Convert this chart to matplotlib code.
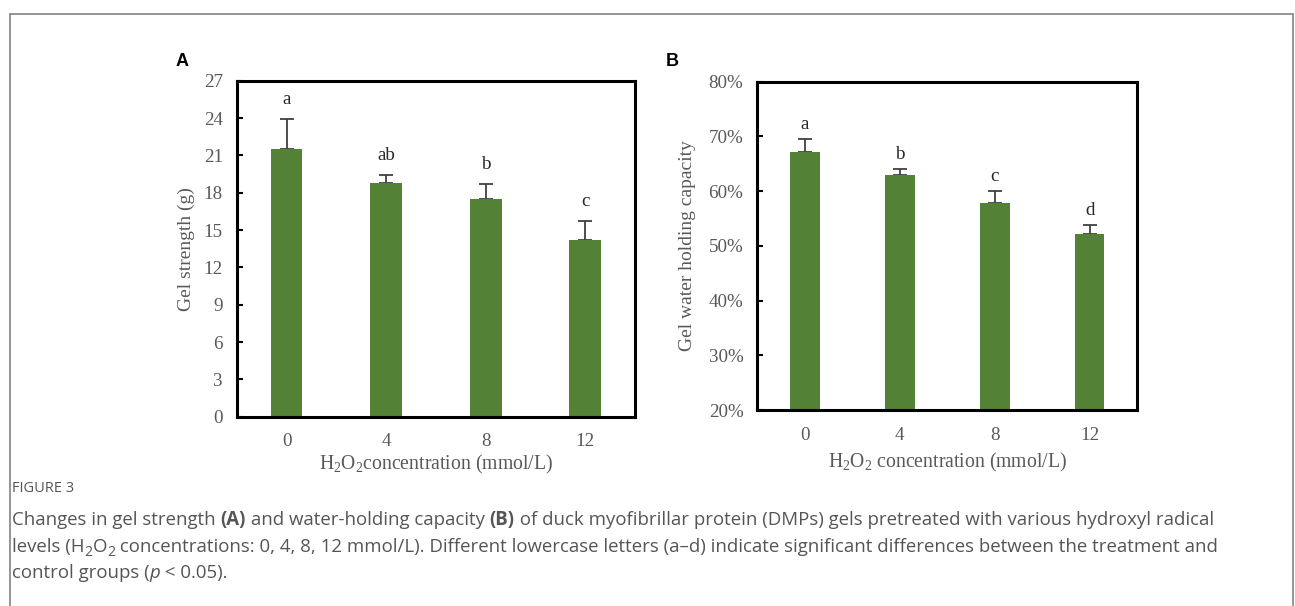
import matplotlib
matplotlib.use("Agg")
import matplotlib.pyplot as plt
import numpy as np
from matplotlib.ticker import PercentFormatter
from matplotlib.patches import Rectangle

plt.rcParams['font.family'] = ['Liberation Serif', 'DejaVu Serif']
plt.rcParams['mathtext.fontset'] = 'custom'
plt.rcParams['mathtext.rm'] = 'Liberation Serif'
plt.rcParams['mathtext.it'] = 'Liberation Serif:italic'

# data
conc = ["0", "4", "8", "12"]
gel_strength = [21.5, 18.8, 17.5, 14.2]
gel_strength_err = [2.4, 0.6, 1.2, 1.5]
gel_strength_letters = ["a", "ab", "b", "c"]

whc = [67.2, 62.9, 57.9, 52.2]
whc_err = [2.3, 1.1, 2.1, 1.6]
whc_letters = ["a", "b", "c", "d"]

green = "#538135"
txt_gray = "#595959"

fig = plt.figure(figsize=(12.95, 6.06), dpi=100)

# outer frame of the figure panel
fig.patches.append(Rectangle((10/1295, -0.05), 1283/1295, 1 - 14/606 + 0.05,
                             transform=fig.transFigure, fill=False,
                             edgecolor="#8c8c8c", linewidth=1.3))


def style_axes(ax):
    for s in ax.spines.values():
        s.set_linewidth(2.2)
        s.set_color("black")
    ax.tick_params(axis='y', direction='in', length=4, width=1.5,
                   labelsize=13.7, labelcolor=txt_gray, pad=10)
    ax.tick_params(axis='x', length=0, labelsize=13.7, labelcolor=txt_gray, pad=12)


x = np.arange(len(conc))

# panel A
axA = fig.add_axes([0.1828, 0.3124, 0.3075, 0.5544])
axA.bar(x, gel_strength, width=0.32, color=green, zorder=2)
axA.errorbar(x, gel_strength, yerr=[np.zeros(4), gel_strength_err], fmt='none',
             ecolor="#404040", elinewidth=1.3, capsize=5, capthick=1.3, zorder=1)
for xi, v, e, lab in zip(x, gel_strength, gel_strength_err, gel_strength_letters):
    axA.text(xi, v + e + 1.6, lab, ha='center', va='center', fontsize=13.7, color="#262626")
axA.set_xlim(-0.5, 3.5)
axA.set_ylim(0, 27)
axA.set_yticks(np.arange(0, 28, 3))
axA.set_xticks(x)
axA.set_xticklabels(conc)
style_axes(axA)
axA.set_ylabel("Gel strength (g)", fontsize=14, color=txt_gray, labelpad=6)
axA.set_xlabel(r"H$_2$O$_2$concentration (mmol/L)", fontsize=14.2, color=txt_gray, labelpad=2)
fig.text(182/1295, 1 - 61/606, "A", fontsize=13, fontweight='bold',
         family='Liberation Sans', ha='center', va='center')

# panel B
axB = fig.add_axes([0.5848, 0.3234, 0.2934, 0.5418])
axB.bar(x, whc, width=0.31, color=green, zorder=2)
axB.errorbar(x, whc, yerr=[np.zeros(4), whc_err], fmt='none',
             ecolor="#404040", elinewidth=1.3, capsize=5, capthick=1.3, zorder=1)
for xi, v, e, lab in zip(x, whc, whc_err, whc_letters):
    axB.text(xi, v + e + 2.7, lab, ha='center', va='center', fontsize=13.7, color="#262626")
axB.set_xlim(-0.5, 3.5)
axB.set_ylim(20, 80)
axB.set_yticks(np.arange(20, 81, 10))
axB.yaxis.set_major_formatter(PercentFormatter(decimals=0))
axB.set_xticks(x)
axB.set_xticklabels(conc)
style_axes(axB)
axB.set_ylabel("Gel water holding capacity", fontsize=14, color=txt_gray, labelpad=9)
axB.set_xlabel(r"H$_2$O$_2$ concentration (mmol/L)", fontsize=14.2, color=txt_gray, labelpad=5)
fig.text(672/1295, 1 - 61/606, "B", fontsize=13, fontweight='bold',
         family='Liberation Sans', ha='center', va='center')

# caption
cap_gray = "#555555"
fig.text(12/1295, 1 - 489/606, "FIGURE 3", fontsize=10.5, color=cap_gray,
         family='Open Sans', va='center')

renderer = fig.canvas.get_renderer()


def draw_runs(x0, y0, runs, size=13.4):
    xpos = x0
    for txt, st in runs:
        kw = dict(family=['Open Sans', 'DejaVu Sans'], color=cap_gray, va='baseline')
        fs = size
        dy = 0
        if st == 'b':
            kw['fontweight'] = 'bold'
        elif st == 'i':
            kw['style'] = 'italic'
        elif st == 'sub':
            fs = size * 0.75
            dy = -4
        t = fig.text(xpos / 1295, 1 - (y0 - dy) / 606, txt, fontsize=fs, **kw)
        bb = t.get_window_extent(renderer)
        xpos += bb.width


draw_runs(12, 525, [("Changes in gel strength ", ''), ("(A)", 'b'),
                    (" and water-holding capacity ", ''), ("(B)", 'b'),
                    (" of duck myofibrillar protein (DMPs) gels pretreated with various hydroxyl radical", '')])
draw_runs(12, 552, [("levels (H", ''), ("2", 'sub'), ("O", ''), ("2", 'sub'),
                    (" concentrations: 0, 4, 8, 12 mmol/L). Different lowercase letters (a\u2013d) indicate significant differences between the treatment and", '')])
draw_runs(12, 578, [("control groups (", ''), ("p", 'i'), (" < 0.05).", '')])

fig.savefig("out.png", dpi=100)
